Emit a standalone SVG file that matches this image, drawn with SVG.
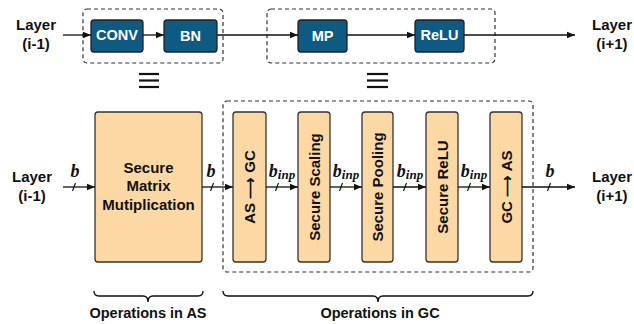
<svg xmlns="http://www.w3.org/2000/svg" width="634" height="324" viewBox="0 0 634 324">
  <style>
    .lbl { font-family: "Liberation Sans", Arial, sans-serif; font-weight: bold; font-size: 15px; fill: #111; text-anchor: middle; }
    .wt { font-family: "Liberation Sans", Arial, sans-serif; font-weight: bold; font-size: 14.5px; fill: #fff; text-anchor: middle; }
    .op { font-family: "Liberation Sans", Arial, sans-serif; font-weight: bold; font-size: 14.5px; fill: #111; text-anchor: middle; }
    .var { font-family: "Liberation Serif", "Times New Roman", serif; font-weight: bold; font-style: italic; font-size: 18px; fill: #111; text-anchor: middle; }
    .sub { font-size: 13px; }
    .blue { fill: #0e5a83; stroke: #222; stroke-width: 1.3; }
    .orange { fill: #fcd9a4; stroke: #333; stroke-width: 1.3; }
    .dash { fill: none; stroke: #333; stroke-width: 1.2; stroke-dasharray: 4 3; }
    .wire { fill: none; stroke: #111; stroke-width: 1.3; }
    .tick { stroke: #111; stroke-width: 1.2; }
    .eq { stroke: #111; stroke-width: 2.2; }
    .brace { fill: none; stroke: #111; stroke-width: 1.4; }
  </style>
  <defs>
    <marker id="arr" viewBox="0 0 10 10" refX="10" refY="5" markerWidth="8" markerHeight="8" markerUnits="userSpaceOnUse" orient="auto">
      <path d="M0,1 L10,5 L0,9 z" fill="#111"/>
    </marker>
  </defs>

  <!-- top row: layer blocks -->
  <g id="top-layer-in"><text class="lbl" x="36" y="30">Layer</text><text class="lbl" x="36" y="49">(i-1)</text></g>
  <g id="top-layer-out"><text class="lbl" x="612" y="30">Layer</text><text class="lbl" x="612" y="49">(i+1)</text></g>
  <g id="group-conv-bn"><rect class="dash" x="83" y="9" width="140" height="54" rx="4"/></g>
  <g id="group-mp-relu"><rect class="dash" x="267" y="9" width="228" height="54" rx="4"/></g>
  <g id="conv"><rect class="blue" x="91" y="20" width="52" height="32" rx="3"/><text class="wt" x="117" y="40">CONV</text></g>
  <g id="bn"><rect class="blue" x="164" y="20" width="53" height="32" rx="3"/><text class="wt" x="190.5" y="41">BN</text></g>
  <g id="mp"><rect class="blue" x="298" y="20" width="49" height="32" rx="3"/><text class="wt" x="322.5" y="41">MP</text></g>
  <g id="relu"><rect class="blue" x="415" y="20" width="49" height="32" rx="3"/><text class="wt" x="439.5" y="40">ReLU</text></g>

  <!-- equivalence signs -->
  <g id="equiv-1"><line class="eq" x1="139" y1="74" x2="159" y2="74"/><line class="eq" x1="139" y1="80.5" x2="159" y2="80.5"/><line class="eq" x1="139" y1="87" x2="159" y2="87"/></g>
  <g id="equiv-2"><line class="eq" x1="367" y1="74" x2="388" y2="74"/><line class="eq" x1="367" y1="80.5" x2="388" y2="80.5"/><line class="eq" x1="367" y1="87" x2="388" y2="87"/></g>

  <!-- bottom row -->
  <g id="bot-layer-in"><text class="lbl" x="32" y="182">Layer</text><text class="lbl" x="32" y="201">(i-1)</text></g>
  <g id="bot-layer-out"><text class="lbl" x="612" y="182">Layer</text><text class="lbl" x="612" y="201">(i+1)</text></g>
  <g id="gc-group"><rect class="dash" x="223" y="101" width="310" height="171" rx="4"/></g>
  <g id="matmul"><rect class="orange" x="95" y="112" width="107" height="150" rx="3"/>
    <text class="lbl" x="148.5" y="173">Secure</text><text class="lbl" x="148.5" y="191">Matrix</text><text class="lbl" x="148.5" y="210">Mutiplication</text></g>
  <g id="as2gc"><rect class="orange" x="233" y="112" width="33" height="150" rx="3"/>
    <text class="lbl" transform="translate(255,187) rotate(-90)">AS ⟶ GC</text></g>
  <g id="scaling"><rect class="orange" x="298" y="112" width="32" height="150" rx="3"/>
    <text class="lbl" transform="translate(319.5,187) rotate(-90)">Secure Scaling</text></g>
  <g id="pooling"><rect class="orange" x="362" y="112" width="31" height="150" rx="3"/>
    <text class="lbl" transform="translate(383,187) rotate(-90)">Secure Pooling</text></g>
  <g id="sec-relu"><rect class="orange" x="426" y="112" width="32" height="150" rx="3"/>
    <text class="lbl" transform="translate(447.5,187) rotate(-90)">Secure ReLU</text></g>
  <g id="gc2as"><rect class="orange" x="490" y="112" width="32" height="150" rx="3"/>
    <text class="lbl" transform="translate(511.5,187) rotate(-90)">GC ⟶ AS</text></g>

  <!-- connectors -->
  <g id="connectors">
    <line class="wire" x1="63" y1="35" x2="91" y2="35" marker-end="url(#arr)"/>
    <line class="wire" x1="143" y1="35" x2="164" y2="35" marker-end="url(#arr)"/>
    <line class="wire" x1="217" y1="35" x2="298" y2="35" marker-end="url(#arr)"/>
    <line class="wire" x1="347" y1="35" x2="415" y2="35" marker-end="url(#arr)"/>
    <line class="wire" x1="464" y1="35" x2="575" y2="35" marker-end="url(#arr)"/>

    <line class="wire" x1="63" y1="187" x2="95" y2="187" marker-end="url(#arr)"/>
    <line class="wire" x1="202" y1="187" x2="233" y2="187" marker-end="url(#arr)"/>
    <line class="wire" x1="266" y1="187" x2="298" y2="187" marker-end="url(#arr)"/>
    <line class="wire" x1="330" y1="187" x2="362" y2="187" marker-end="url(#arr)"/>
    <line class="wire" x1="393" y1="187" x2="426" y2="187" marker-end="url(#arr)"/>
    <line class="wire" x1="458" y1="187" x2="490" y2="187" marker-end="url(#arr)"/>
    <line class="wire" x1="522" y1="187" x2="575" y2="187" marker-end="url(#arr)"/>

    <line class="tick" x1="72.5" y1="191" x2="75.5" y2="183"/>
    <line class="tick" x1="210.5" y1="191" x2="213.5" y2="183"/>
    <line class="tick" x1="275.5" y1="191" x2="278.5" y2="183"/>
    <line class="tick" x1="339.5" y1="191" x2="342.5" y2="183"/>
    <line class="tick" x1="403.5" y1="191" x2="406.5" y2="183"/>
    <line class="tick" x1="467.5" y1="191" x2="470.5" y2="183"/>
    <line class="tick" x1="547.5" y1="191" x2="550.5" y2="183"/>

    <text class="var" x="75" y="177">b</text>
    <text class="var" x="211" y="177">b</text>
    <text class="var" x="282" y="177">b<tspan class="sub" dy="2">inp</tspan></text>
    <text class="var" x="346" y="177">b<tspan class="sub" dy="2">inp</tspan></text>
    <text class="var" x="410" y="177">b<tspan class="sub" dy="2">inp</tspan></text>
    <text class="var" x="474" y="177">b<tspan class="sub" dy="2">inp</tspan></text>
    <text class="var" x="550" y="177">b</text>
  </g>

  <!-- braces and captions -->
  <g id="brace-as"><path class="brace" d="M94,291 q0,5 5,5 h44 q5,0 5,6 q0,-6 5,-6 h45 q5,0 5,-5"/>
    <text class="op" x="148" y="318">Operations in AS</text></g>
  <g id="brace-gc"><path class="brace" d="M223,291 q0,5 5,5 h145 q5,0 5,6 q0,-6 5,-6 h145 q5,0 5,-5"/>
    <text class="op" x="380" y="318">Operations in GC</text></g>
</svg>
